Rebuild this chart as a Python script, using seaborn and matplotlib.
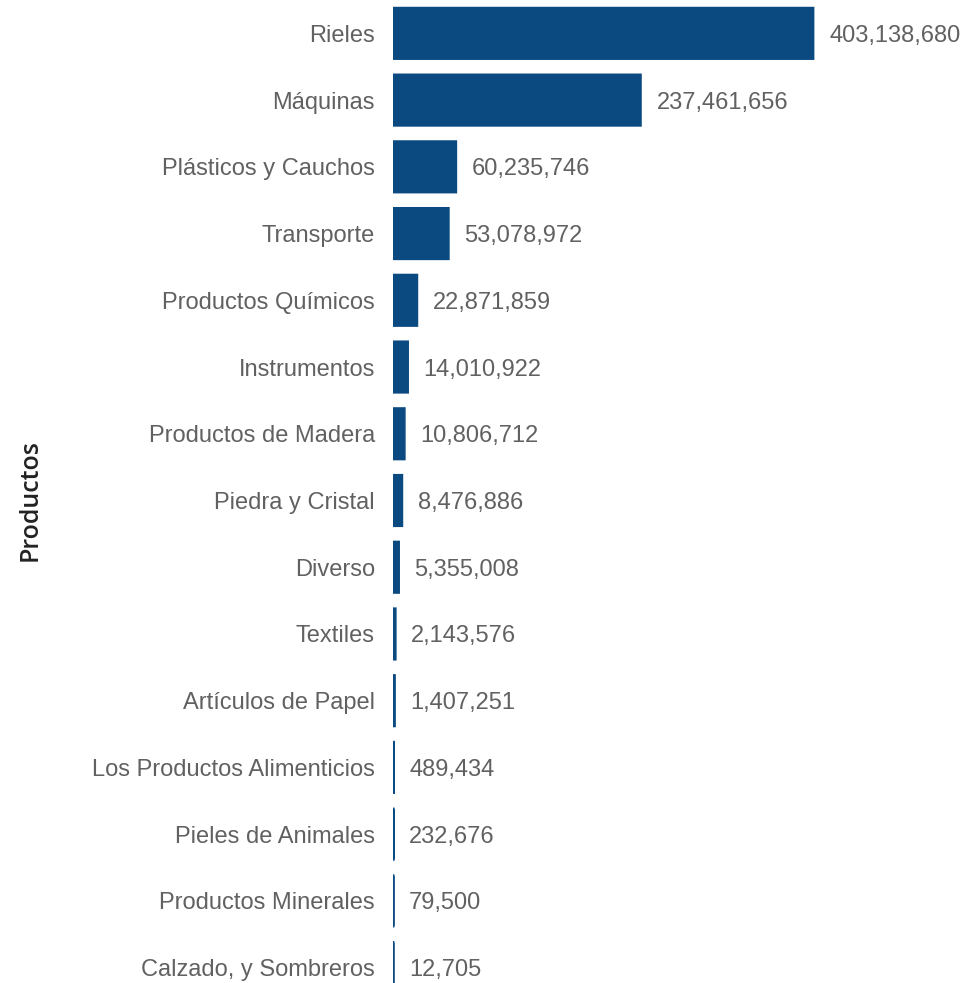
import matplotlib
matplotlib.use("Agg")
import matplotlib.pyplot as plt
import seaborn as sns
import pandas as pd

productos = ["Rieles", "Máquinas", "Plásticos y Cauchos", "Transporte", "Productos Químicos",
             "Instrumentos", "Productos de Madera", "Piedra y Cristal", "Diverso", "Textiles",
             "Artículos de Papel", "Los Productos Alimenticios", "Pieles de Animales",
             "Productos Minerales", "Calzado, y Sombreros"]
valores = [403138680, 237461656, 60235746, 53078972, 22871859, 14010922, 10806712, 8476886,
           5355008, 2143576, 1407251, 489434, 232676, 79500, 12705]

df = pd.DataFrame({"Productos": productos, "Valor": valores})

sns.set_theme(style="white")
plt.rcParams["font.family"] = ["Liberation Sans", "DejaVu Sans"]

fig = plt.figure(figsize=(9.66, 9.83), dpi=100)
W, H = 966, 983
left_px, right_px = 393, 966
top_px, bottom_px = 0, 1001
ax = fig.add_axes([left_px / W, 1 - bottom_px / H, (right_px - left_px) / W, (bottom_px - top_px) / H])

color = "#0B4A80"
sns.barplot(data=df, y="Productos", x="Valor", orient="h", color=color, saturation=1,
            width=0.755, edgecolor=color, linewidth=2.0, ax=ax)
for p in ax.patches:
    p.set_snap(False)

xmax = valores[0] * (right_px - left_px) / (813 - 393)
ax.set_xlim(0, xmax)
ax.set_ylim(len(productos) - 0.5, -0.5)

for i, v in enumerate(valores):
    ax.annotate(f"{v:,}", xy=(v, i), xytext=(16, 0), textcoords="offset pixels",
                va="center_baseline", ha="left", fontsize=17, color="#616161")

ax.set_xlabel("")
ax.set_xticks([])
ax.tick_params(axis="y", length=0, pad=13, labelsize=17, labelcolor="#616161")
for lab in ax.get_yticklabels():
    lab.set_verticalalignment("center_baseline")
ax.set_ylabel("Productos", fontsize=18, color="#222222", family=["Open Sans", "DejaVu Sans"],
              fontweight="semibold")
ax.yaxis.set_label_coords(-(left_px - 43) / (right_px - left_px), 1 - 500 / (bottom_px - top_px))
for s in ax.spines.values():
    s.set_visible(False)

fig.savefig("out.png", dpi=100)
